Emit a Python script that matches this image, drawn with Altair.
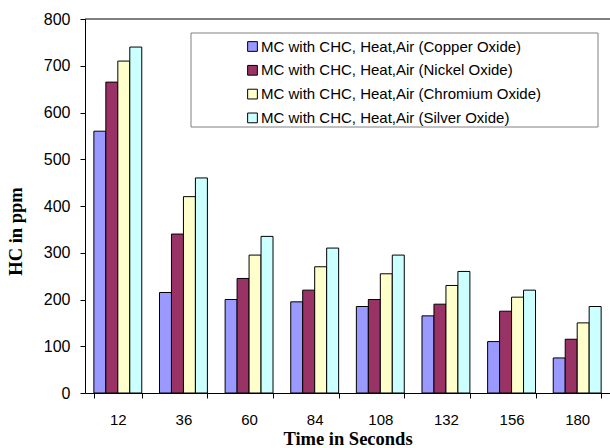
import altair as alt
import pandas as pd

times = ["12", "36", "60", "84", "108", "132", "156", "180"]
series = [
    "MC with CHC, Heat,Air (Copper Oxide)",
    "MC with CHC, Heat,Air (Nickel Oxide)",
    "MC with CHC, Heat,Air (Chromium Oxide)",
    "MC with CHC, Heat,Air (Silver Oxide)",
]
copper = [560, 215, 200, 195, 185, 165, 110, 75]
nickel = [665, 340, 245, 220, 200, 190, 175, 115]
chromium = [710, 420, 295, 270, 255, 230, 205, 150]
silver = [740, 460, 335, 310, 295, 260, 220, 185]
colors = ["#9999FF", "#993366", "#FFFFCC", "#CCFFFF"]

rows = []
for s, vals in zip(series, [copper, nickel, chromium, silver]):
    for t, v in zip(times, vals):
        rows.append({"Time": t, "Series": s, "HC": v})
df = pd.DataFrame(rows)

W, H = 525, 374

bars = alt.Chart(df).mark_bar(stroke="black", strokeWidth=1, opacity=1).encode(
    x=alt.X("Time:N", sort=times, scale=alt.Scale(paddingInner=0.27, paddingOuter=0.135),
            axis=alt.Axis(title="Time in Seconds", labelAngle=0, tickBand="extent",
                          titleY=51, titleBaseline="alphabetic", labelFontSize=15,
                          labelPadding=14)),
    xOffset=alt.XOffset("Series:N", sort=series),
    y=alt.Y("HC:Q", scale=alt.Scale(domain=[0, 800], nice=False),
            axis=alt.Axis(title="HC in ppm", values=list(range(0, 801, 100)),
                          titleX=-60, titleY=212, titleAngle=-90, labelFontSize=16,
                          labelPadding=10)),
    color=alt.Color("Series:N", sort=series, scale=alt.Scale(domain=series, range=colors),
                    legend=alt.Legend(title=None, orient="none", legendX=160, legendY=20,
                                      symbolType="square", symbolSize=95,
                                      symbolStrokeColor="black", symbolStrokeWidth=1,
                                      labelFontSize=15, labelFont="Liberation Sans",
                                      labelColor="black", rowPadding=7.8, labelOffset=1,
                                      labelLimit=400)),
)

frame = alt.Chart(pd.DataFrame({"a": [0]})).mark_rect(
    fill="white", stroke="#808080", strokeWidth=1
).encode(x=alt.value(106), x2=alt.value(513), y=alt.value(14), y2=alt.value(108))

top = alt.Chart(pd.DataFrame({"a": [0]})).mark_rule(color="black", strokeWidth=1).encode(
    y=alt.value(0), x=alt.value(0), x2=alt.value(W))

chart = alt.layer(bars, frame, top).properties(
    width=W, height=H,
    padding={"left": 85, "top": 19, "right": 0, "bottom": 55},
    autosize=alt.AutoSizeParams(type="none"),
).configure_view(stroke=None).configure_axis(
    domainColor="black", tickColor="black", tickSize=5, grid=False,
    labelFont="Liberation Sans", labelColor="black",
    titleFont="Liberation Serif", titleFontSize=18.5, titleFontWeight="bold", titleColor="black",
)

chart.save("out.html", embed_options={"renderer": "svg", "actions": False})
